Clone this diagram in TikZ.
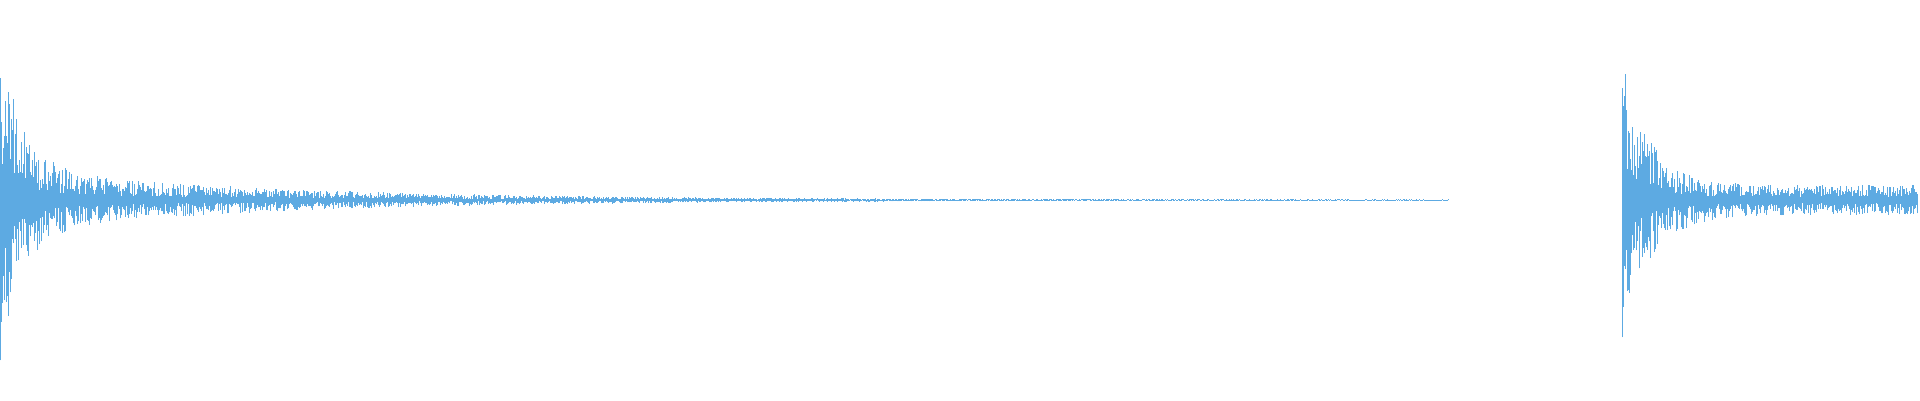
\documentclass[tikz,border=0pt]{standalone}
\definecolor{wave}{RGB}{93,170,226}
\begin{document}
\begin{tikzpicture}[x=1cm, y=1cm]
\tikzset{
  sample/.style = {draw = wave, line width = 0.2pt},
}
\useasboundingbox (0,0) rectangle (19.2,4);
\coordinate (axis) at (0,2);
\pgfmathsetseed{11}
% first burst and its long tail
\foreach \i in {0,...,1449} {
  \pgfmathsetmacro{\xx}{\i*0.01}
  \pgfmathsetmacro{\amp}{1.35*exp(-\xx/0.22)+0.32*exp(-\xx/2.6)+0.005}
  \pgfmathsetmacro{\up}{\amp*(0.2+0.8*rnd)}
  \pgfmathsetmacro{\dn}{\amp*(0.2+0.8*rnd)}
  \draw [sample] ([shift={(\xx,-\dn)}]axis) -- ([shift={(\xx,\up)}]axis);
}
% second burst
\foreach \i in {0,...,295} {
  \pgfmathsetmacro{\tt}{\i*0.01}
  \pgfmathsetmacro{\xx}{16.22+\tt}
  \pgfmathsetmacro{\amp}{1.25*exp(-\tt/0.28)+0.15}
  \pgfmathsetmacro{\up}{\amp*(0.2+0.8*rnd)}
  \pgfmathsetmacro{\dn}{\amp*(0.2+0.8*rnd)}
  \draw [sample] ([shift={(\xx,-\dn)}]axis) -- ([shift={(\xx,\up)}]axis);
}
\end{tikzpicture}
\end{document}
